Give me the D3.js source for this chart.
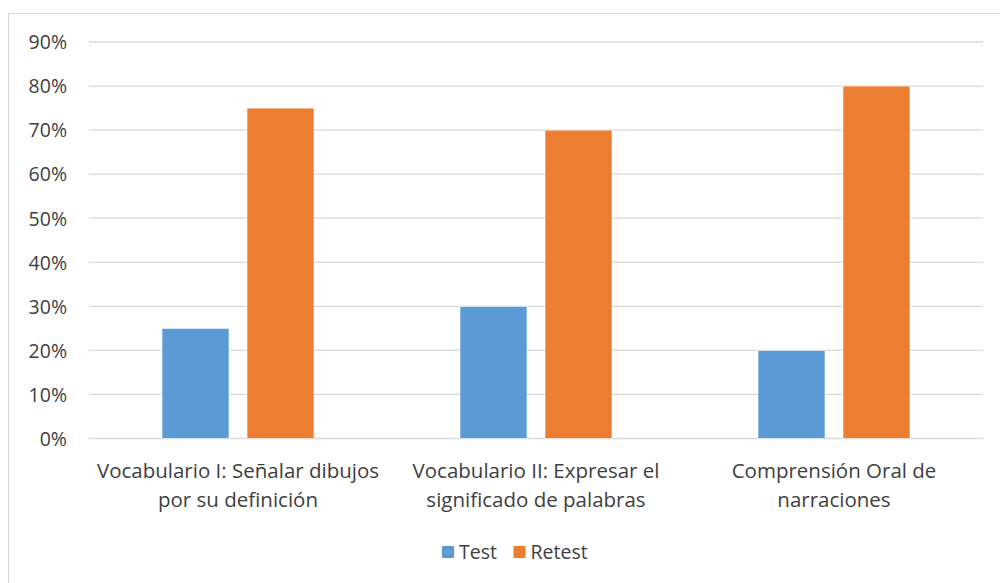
<!DOCTYPE html>
<html><head><meta charset="utf-8">
<script src="https://cdn.jsdelivr.net/npm/d3@7"></script>
<style>body{margin:0;background:#fff}svg{display:block}text{font-family:"Open Sans",sans-serif;fill:#404040}</style>
</head><body>
<svg id="c" width="1000" height="583"></svg>
<script>
const categories = [["Vocabulario I: Señalar dibujos","por su definición"],["Vocabulario II: Expresar el","significado de palabras"],["Comprensión Oral de","narraciones"]];
const series = ["Test","Retest"];
const testValues = [0.25, 0.30, 0.20];
const retestValues = [0.75, 0.70, 0.80];
const yTicks = [0,0.1,0.2,0.3,0.4,0.5,0.6,0.7,0.8,0.9];
const colors = ["#5B9BD5","#ED7D31"];

const svg = d3.select("#c");
svg.append("rect").attr("x",8.5).attr("y",13.5).attr("width",1000).attr("height",600).attr("fill","#fff").attr("stroke","#D9D9D9");

const x0 = d3.scaleBand().domain(d3.range(categories.length)).range([89,983]);
const x1 = d3.scaleBand().domain(series).range([(x0.bandwidth()-152)/2,(x0.bandwidth()+152)/2]).paddingInner(0.2118);
const y = d3.scaleLinear().domain([0,0.9]).range([438.5,42]);

const grid = svg.append("g");
grid.selectAll("line").data(yTicks).join("line")
  .attr("x1",89).attr("x2",983).attr("y1",d=>y(d)).attr("y2",d=>y(d))
  .attr("stroke","#D9D9D9").attr("stroke-width",1.3);

const yAxis = d3.axisLeft(y).tickValues(yTicks).tickFormat(d3.format(".0%")).tickSize(0).tickPadding(0);
const ya = svg.append("g").attr("transform","translate(67,0)").call(yAxis);
ya.select(".domain").remove();
ya.selectAll("text").style("font-size","19.5px").style("font-family","'Open Sans',sans-serif").attr("fill","#404040").attr("dy","0.35em");

const data = categories.map((c,i)=>({i, vals:[testValues[i], retestValues[i]]}));
const g = svg.append("g");
g.selectAll("g").data(data).join("g").attr("transform",d=>`translate(${x0(d.i)},0)`)
  .selectAll("rect").data(d=>d.vals.map((v,k)=>({k,v}))).join("rect")
  .attr("x",d=>x1(series[d.k])).attr("width",x1.bandwidth())
  .attr("y",d=>y(d.v)).attr("height",d=>y(0)-y(d.v))
  .attr("fill",d=>colors[d.k]).attr("stroke","#fff").attr("stroke-width",0.6);

const lab = svg.append("g");
categories.forEach((lines,i)=>{
  const t = lab.append("text").attr("x",x0(i)+x0.bandwidth()/2).attr("text-anchor","middle").style("font-size","20.5px");
  lines.forEach((l,j)=>t.append("tspan").attr("x",x0(i)+x0.bandwidth()/2).attr("y",478+j*28.5).text(l));
});

const leg = svg.append("g");
const legX = [442, 513.5];
series.forEach((s,k)=>{
  leg.append("rect").attr("x",legX[k]).attr("y",546).attr("width",12).attr("height",12).attr("fill",colors[k]);
  leg.append("text").attr("x",legX[k]+17).attr("y",558.5).style("font-size","19.5px").text(s);
});
</script>
</body></html>
